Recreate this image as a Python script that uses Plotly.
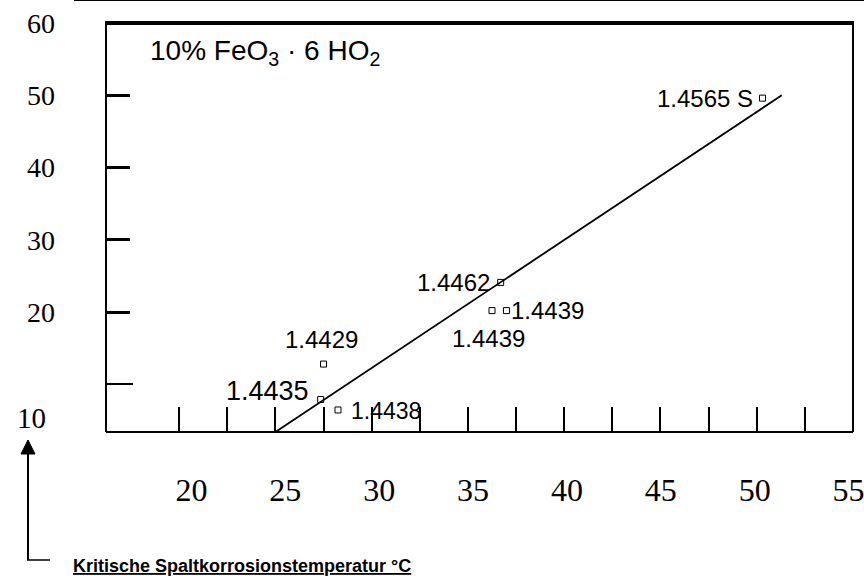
import plotly.graph_objects as go

# ---------------- data ----------------
alloys = ["1.4565 S", "1.4462", "1.4439", "1.4439", "1.4429", "1.4435", "1.4438"]
pren = [50.3, 36.7, 36.25, 37.0, 27.5, 27.35, 28.25]
cct = [49.6, 24.1, 20.2, 20.2, 12.8, 7.9, 6.45]

trend_x = [25.0, 51.3]
trend_y = [3.4, 50.0]

x_tick_vals = [20, 25, 30, 35, 40, 45, 50, 55]
x_tick_text = ["20", "25", "30", "35", "40", "45", "50", "55"]
x_minor_vals = [20, 22.5, 25, 27.5, 30, 32.5, 35, 37.5, 40, 42.5, 45, 47.5, 50, 52.5]
y_tick_vals = [20, 30, 40, 50, 60]
y_tick_text = ["20", "30", "40", "50", "60"]
y_minor_vals = [10]

chart_label = "10% FeO<sub>3</sub> · 6 HO<sub>2</sub>"
axis_caption = "<b><u>Kritische Spaltkorrosionstemperatur °C</u></b>"

# label placement styles (pixel offsets from each point)
label_styles = [
    dict(xanchor="right", yanchor="middle", xshift=-8, yshift=0, size=24),
    dict(xanchor="right", yanchor="middle", xshift=-9, yshift=0, size=24),
    dict(xanchor="center", yanchor="middle", xshift=-4, yshift=-28, size=24),
    dict(xanchor="left", yanchor="middle", xshift=3, yshift=0, size=24),
    dict(xanchor="center", yanchor="middle", xshift=-2, yshift=25, size=24),
    dict(xanchor="right", yanchor="middle", xshift=-10, yshift=8, size=27),
    dict(xanchor="left", yanchor="middle", xshift=11, yshift=-1, size=23),
]

W, H = 864, 576
L, R, T, B = 106, 11, 23, 144
pw, ph = W - L - R, H - T - B


def px(xp):
    return (xp - L) / pw


def py(yp):
    return (H - B - yp) / ph


serif = "Liberation Serif, Times New Roman, serif"
sans = "Liberation Sans, Arial, sans-serif"

fig = go.Figure()
fig.add_trace(go.Scatter(x=trend_x, y=trend_y, mode="lines",
                         line=dict(color="black", width=1.8), hoverinfo="skip",
                         showlegend=False))
fig.add_trace(go.Scatter(x=pren, y=cct, mode="markers",
                         marker=dict(symbol="square-open", size=6, color="black",
                                     line=dict(width=1)),
                         showlegend=False))
# carrier for the label axis (no visible marks)
fig.add_trace(go.Scatter(x=[], y=[], xaxis="x2", yaxis="y", showlegend=False,
                         hoverinfo="skip"))

annotations = []
for name, xv, yv, st in zip(alloys, pren, cct, label_styles):
    annotations.append(dict(x=xv, y=yv, xref="x", yref="y", text=name, showarrow=False,
                            xanchor=st["xanchor"], yanchor=st["yanchor"],
                            xshift=st["xshift"], yshift=st["yshift"],
                            font=dict(family=sans, size=st["size"], color="black")))

annotations.append(dict(x=px(148), y=py(52), xref="paper", yref="paper", text=chart_label,
                        showarrow=False, xanchor="left", yanchor="middle",
                        font=dict(family=sans, size=28, color="black")))
annotations.append(dict(x=px(31), y=py(418), xref="paper", yref="paper", text="10",
                        showarrow=False, xanchor="center", yanchor="middle",
                        font=dict(family=serif, size=29, color="black")))
annotations.append(dict(x=px(71), y=py(566), xref="paper", yref="paper", text=axis_caption,
                        showarrow=False, xanchor="left", yanchor="middle",
                        font=dict(family=sans, size=18, color="black")))

shapes = [
    # frame
    dict(type="line", xref="paper", yref="paper", x0=0, x1=1, y0=0, y1=0,
         line=dict(color="black", width=2)),
    dict(type="line", xref="paper", yref="paper", x0=0, x1=0, y0=0, y1=1,
         line=dict(color="black", width=2)),
    dict(type="line", xref="paper", yref="paper", x0=1, x1=1, y0=0, y1=1,
         line=dict(color="black", width=2)),
    dict(type="line", xref="paper", yref="paper", x0=px(105), x1=px(854), y0=1, y1=1,
         line=dict(color="black", width=4)),
    # top rule of the page
    dict(type="line", xref="paper", yref="paper", x0=px(74), x1=px(864), y0=py(0), y1=py(0),
         line=dict(color="black", width=2)),
    # arrow
    dict(type="line", xref="paper", yref="paper", x0=px(28), x1=px(28), y0=py(560), y1=py(450),
         line=dict(color="black", width=2)),
    dict(type="line", xref="paper", yref="paper", x0=px(27), x1=px(50), y0=py(560), y1=py(560),
         line=dict(color="black", width=1.5)),
    dict(type="path", xref="paper", yref="paper",
         path="M {} {} L {} {} L {} {} Z".format(px(28), py(440), px(21), py(454), px(35), py(454)),
         fillcolor="black", line=dict(color="black", width=1)),
]

fig.update_layout(
    width=W, height=H,
    margin=dict(l=L, r=R, t=T, b=B, pad=0, autoexpand=False),
    paper_bgcolor="white", plot_bgcolor="white",
    showlegend=False,
    annotations=annotations,
    shapes=shapes,
    xaxis=dict(range=[16.2, 55.0], showgrid=False, zeroline=False, showline=False,
               automargin=False, showticklabels=False, ticks="",
               minor=dict(tickmode="array", tickvals=x_minor_vals, ticks="inside",
                          ticklen=25, tickwidth=2, tickcolor="black")),
    xaxis2=dict(overlaying="x", anchor="y", side="bottom", automargin=False,
                range=[15.445, 55.24], showgrid=False, zeroline=False, showline=False,
                tickmode="array", tickvals=x_tick_vals, ticktext=x_tick_text,
                ticks="", ticklabelstandoff=36, ticklabeloverflow="allow",
                tickfont=dict(family=serif, size=32, color="black")),
    yaxis=dict(range=[3.4, 60.0], showgrid=False, zeroline=False, showline=False,
               automargin=False,
               tickmode="array", tickvals=y_tick_vals, ticktext=y_tick_text,
               ticks="inside", ticklen=24, tickwidth=3, tickcolor="black",
               ticklabelstandoff=50, ticklabeloverflow="allow",
               minor=dict(tickmode="array", tickvals=y_minor_vals, ticks="inside",
                          ticklen=27, tickwidth=2, tickcolor="black"),
               tickfont=dict(family=serif, size=28, color="black")),
)

fig.write_html("out.html", config={"displayModeBar": False},
               post_script="document.body.style.margin='0px';")
